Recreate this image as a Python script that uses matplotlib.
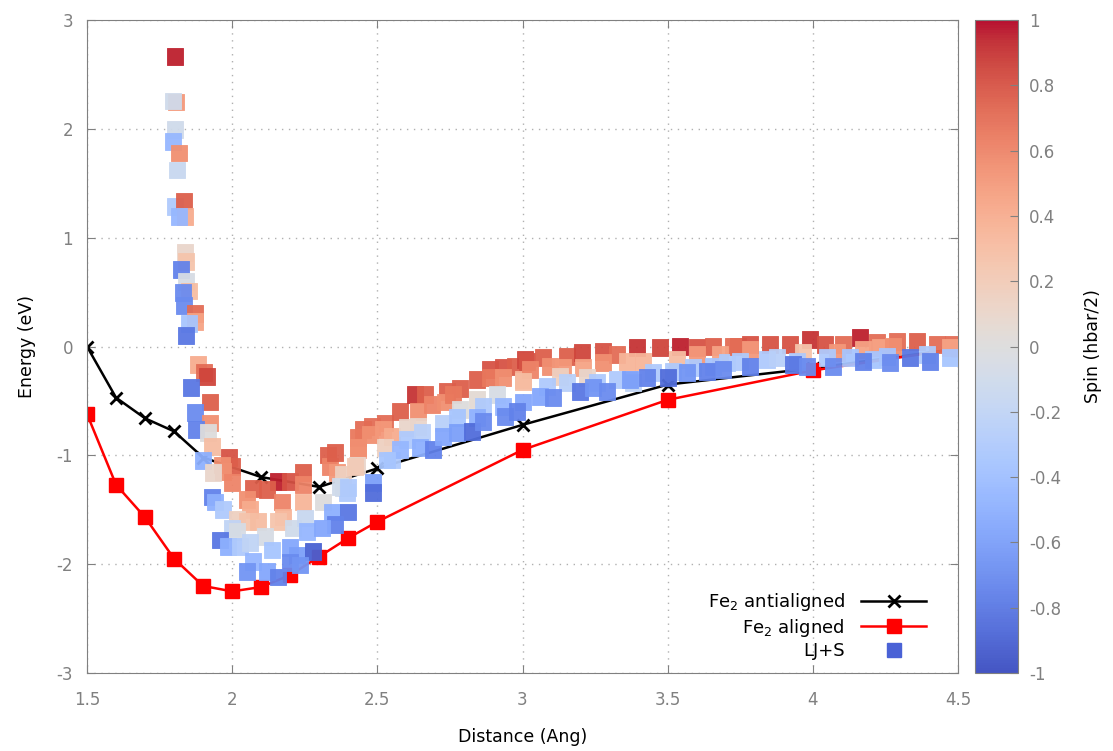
import matplotlib
matplotlib.use("Agg")
import matplotlib.pyplot as plt
import numpy as np
from matplotlib.lines import Line2D

plt.rcParams['font.family'] = ['DejaVu Sans']
plt.rcParams['axes.unicode_minus'] = False

# Fe2 reference curves
anti_x = [1.5, 1.6, 1.7, 1.8, 1.9, 2.1, 2.3, 2.5, 3.0, 3.5, 4.0, 4.5]
anti_y = [0.0, -0.47, -0.66, -0.78, -1.02, -1.20, -1.29, -1.12, -0.72, -0.35, -0.20, -0.02]
align_x = [1.5, 1.6, 1.7, 1.8, 1.9, 2.0, 2.1, 2.2, 2.3, 2.4, 2.5, 3.0, 3.5, 4.0, 4.5]
align_y = [-0.62, -1.27, -1.57, -1.95, -2.20, -2.25, -2.21, -2.10, -1.93, -1.76, -1.61,
           -0.95, -0.49, -0.22, -0.02]

# LJ+S scatter: distance, energy, spin
ljs_x = [1.803, 1.807, 1.796, 1.803, 1.796, 1.817, 1.810, 1.803, 1.834, 1.838, 1.817, 1.838,
         1.841, 1.824, 1.841, 1.851, 1.831, 1.834, 1.872, 1.872, 1.851, 1.841, 1.882, 1.903,
         1.913, 1.858, 1.924, 1.872, 1.924, 1.875, 1.917, 1.931, 1.900, 1.989, 2.000, 1.965,
         1.968, 1.934, 2.000,
         2.072, 2.158, 2.120, 2.199, 2.244, 2.244, 2.330, 2.337, 2.361, 2.434, 2.430, 2.051,
         2.061, 2.172, 2.175, 2.244, 2.313, 2.382, 2.396, 1.931, 1.941, 1.968, 2.017, 2.051,
         2.089, 2.158, 2.000, 2.017, 2.113, 2.210, 2.251, 2.258, 2.344, 2.399, 2.354, 2.310,
         1.958, 1.986, 2.027, 2.061, 2.137, 2.199, 2.223, 2.279, 2.072, 2.051, 2.120, 2.158,
         2.199, 2.234,
         2.354, 2.451, 2.434, 2.482, 2.527, 2.578, 2.630, 2.664, 2.740, 2.785, 2.843, 2.888,
         2.933, 2.974, 3.009, 2.434, 2.475, 2.520, 2.551, 2.640, 2.688, 2.733, 2.761, 2.888,
         2.933, 3.002, 2.382, 2.423, 2.602, 2.640, 2.527, 2.785, 2.843, 2.912, 2.551, 2.602,
         2.654, 2.726, 2.775, 2.864, 2.843, 2.933, 3.002, 2.578, 2.647, 2.692, 2.726, 2.775,
         2.826, 2.864, 2.940, 2.981, 2.485, 2.485, 2.372, 2.399, 2.533,
         3.016, 3.071, 3.153, 3.205, 3.277, 3.326, 3.395, 3.474, 3.543, 3.601, 3.656, 3.725,
         3.026, 3.095, 3.140, 3.209, 3.277, 3.360, 3.415, 3.532, 3.601, 3.681, 3.002, 3.129,
         3.222, 3.085, 3.153, 3.257, 3.326, 3.381, 3.450, 3.519, 3.588, 3.656, 3.705, 3.060,
         3.105, 3.198, 3.243, 3.291, 3.370, 3.429, 3.501, 3.567, 3.636, 3.691,
         3.743, 3.784, 3.853, 3.922, 3.991, 4.042, 4.104, 4.163, 4.221, 4.290, 4.359, 4.428,
         4.483, 3.784, 3.966, 4.083, 4.173, 4.232, 4.276, 4.473, 3.749, 3.842, 3.877, 3.946,
         4.049, 4.128, 4.208, 4.256, 4.394, 4.473, 3.784, 3.932, 3.980, 4.070, 4.173, 4.266,
         4.335, 4.404]
ljs_y = [2.665, 2.243, 2.252, 1.994, 1.884, 1.774, 1.618, 1.287, 1.333, 1.195, 1.195, 0.864,
         0.781, 0.708, 0.597, 0.506, 0.496, 0.377, 0.303, 0.230, 0.211, 0.101, -0.165, -0.239,
         -0.276, -0.377, -0.506, -0.607, -0.699, -0.763, -0.790, -0.919, -1.048, -1.020, -1.103,
         -1.085, -1.149, -1.158, -1.250,
         -1.305, -1.241, -1.314, -1.241, -1.158, -1.268, -0.993, -1.103, -1.158, -0.947, -1.094,
         -1.406, -1.498, -1.425, -1.563, -1.425, -1.425, -1.296, -1.342, -1.379, -1.425, -1.498,
         -1.590, -1.608, -1.608, -1.608, -1.664, -1.700, -1.746, -1.664, -1.572, -1.700, -1.517,
         -1.517, -1.636, -1.664, -1.774, -1.838, -1.838, -1.801, -1.866, -1.847, -1.912, -1.884,
         -1.976, -2.068, -2.068, -2.114, -1.985, -2.004,
         -0.974, -0.763, -0.836, -0.735, -0.699, -0.597, -0.441, -0.441, -0.414, -0.386, -0.303,
         -0.211, -0.193, -0.184, -0.119, -0.928, -0.809, -0.763, -0.827, -0.597, -0.533, -0.506,
         -0.441, -0.285, -0.285, -0.303, -1.176, -1.103, -0.744, -0.735, -0.928, -0.579, -0.487,
         -0.441, -1.039, -0.855, -0.790, -0.699, -0.653, -0.551, -0.653, -0.551, -0.506, -0.947,
         -0.928, -0.947, -0.827, -0.790, -0.781, -0.689, -0.643, -0.597, -1.250, -1.342, -1.287,
         -1.296, -1.039,
         -0.138, -0.101, -0.092, -0.055, -0.046, -0.074, -0.009, -0.009, 0.000, -0.009, 0.000,
         0.000, -0.211, -0.184, -0.193, -0.193, -0.147, -0.138, -0.138, -0.119, -0.074, -0.074,
         -0.322, -0.276, -0.285, -0.368, -0.331, -0.331, -0.303, -0.331, -0.239, -0.230, -0.193,
         -0.184, -0.147, -0.460, -0.469, -0.414, -0.377, -0.414, -0.303, -0.285, -0.285, -0.239,
         -0.230, -0.211,
         0.000, 0.018, 0.018, 0.018, 0.064, 0.018, 0.018, 0.083, 0.037, 0.046, 0.046, 0.018,
         0.018, -0.028, -0.055, -0.055, -0.028, -0.009, 0.000, -0.009, -0.138, -0.119, -0.101,
         -0.138, -0.101, -0.101, -0.119, -0.092, -0.074, -0.101, -0.184, -0.165, -0.184, -0.184,
         -0.138, -0.147, -0.101, -0.138]
ljs_spin = [0.95, 0.5, -0.1, -0.1, -0.45, 0.55, -0.15, -0.3, 0.75, 0.4, -0.45, 0.1,
            0.25, -0.75, -0.05, 0.3, -0.7, -0.7, 0.7, 0.45, -0.35, -0.8, 0.4, 0.7,
            0.85, -0.8, 0.75, -0.7, 0.55, -0.75, 0.0, 0.3, -0.5, 0.8, 0.75, 0.55,
            0.55, 0.1, 0.6,
            0.75, 0.95, 0.75, 0.8, 0.75, 0.6, 0.75, 0.6, 0.5, 0.45, 0.1, 0.55,
            0.4, 0.6, 0.35, 0.35, 0.0, -0.1, -0.3, -0.75, -0.5, -0.3, 0.15, 0.25,
            0.3, 0.25, -0.2, -0.05, -0.05, -0.1, -0.15, -0.45, -0.5, -0.8, -0.75, -0.55,
            -0.8, -0.5, -0.3, -0.2, -0.35, -0.55, -0.6, -0.9, -0.45, -0.65, -0.55, -0.75,
            -0.7, -0.65,
            0.75, 0.7, 0.65, 0.7, 0.7, 0.75, 0.9, 0.75, 0.75, 0.75, 0.75, 0.8,
            0.8, 0.75, 0.85, 0.55, 0.55, 0.5, 0.4, 0.55, 0.6, 0.55, 0.65, 0.65,
            0.55, 0.35, 0.15, 0.2, 0.1, 0.1, 0.15, 0.0, 0.05, -0.05, -0.3, -0.3,
            -0.25, -0.25, -0.35, -0.3, -0.5, -0.45, -0.55, -0.45, -0.5, -0.75, -0.55, -0.6,
            -0.85, -0.7, -0.7, -0.75, -0.6, -0.85, -0.1, -0.3, -0.35,
            0.8, 0.75, 0.75, 0.85, 0.8, 0.7, 0.9, 0.85, 0.95, 0.8, 0.75, 0.7,
            0.6, 0.55, 0.5, 0.45, 0.55, 0.35, 0.35, 0.3, 0.5, 0.45, 0.3, 0.15,
            0.1, -0.3, -0.25, -0.3, -0.3, -0.2, -0.3, -0.3, -0.3, -0.35, -0.3, -0.55,
            -0.7, -0.8, -0.65, -0.7, -0.6, -0.75, -0.85, -0.65, -0.75, -0.7,
            0.7, 0.8, 0.8, 0.8, 0.9, 0.8, 0.7, 0.95, 0.7, 0.7, 0.75, 0.7,
            0.7, 0.5, 0.25, 0.5, 0.45, 0.45, 0.55, 0.45, -0.3, -0.3, -0.25, -0.3,
            -0.3, -0.35, -0.35, -0.35, -0.3, -0.35, -0.75, -0.8, -0.7, -0.7, -0.75, -0.7,
            -0.8, -0.75]

x_ticks = [1.5, 2, 2.5, 3, 3.5, 4, 4.5]
y_ticks = [-3, -2, -1, 0, 1, 2, 3]
cb_ticks = [-1, -0.8, -0.6, -0.4, -0.2, 0, 0.2, 0.4, 0.6, 0.8, 1]

grey = '#808080'
fig = plt.figure(figsize=(11.13, 7.51), dpi=100)
ax = fig.add_axes([87/1113, 78/751, 871/1113, 653/751])
cax = fig.add_axes([975/1113, 78/751, 43/1113, 653/751])

ax.plot(anti_x, anti_y, color='black', lw=1.8, marker='x', ms=9, mew=2, zorder=2,
        label='Fe$_2$ antialigned')
ax.plot(align_x, align_y, color='red', lw=1.8, marker='s', ms=10, zorder=2,
        label='Fe$_2$ aligned')
sc = ax.scatter(ljs_x, ljs_y, c=ljs_spin, cmap='coolwarm', vmin=-1, vmax=1, marker='s',
                s=135, linewidths=0.6, edgecolors='face', alpha=0.95, zorder=3)

ax.set_xlim(1.5, 4.5)
ax.set_ylim(-3, 3)
ax.set_xticks(x_ticks)
ax.set_xticklabels([f'{t:g}' for t in x_ticks])
ax.set_yticks(y_ticks)
ax.set_yticklabels([f'{t:g}' for t in y_ticks])
ax.grid(True, color='#b0b0b0', linestyle=(0, (1, 4)), lw=1)
ax.tick_params(direction='in', top=True, right=True, colors=grey, labelcolor=grey,
               labelsize=12, length=6)
ax.tick_params(axis='x', pad=13)
ax.tick_params(axis='y', pad=10)
for s in ax.spines.values():
    s.set_color(grey)
ax.set_xlabel('Distance (Ang)', fontsize=12.5, labelpad=14)
ax.set_ylabel('Energy (eV)', fontsize=12.5, labelpad=15)

handles = [Line2D([], [], color='black', lw=1.8, marker='x', ms=9, mew=2),
           Line2D([], [], color='red', lw=1.8, marker='s', ms=10),
           Line2D([], [], color='#4a62d6', lw=0, marker='s', ms=10)]
labels = ['Fe$_2$ antialigned', 'Fe$_2$ aligned', 'LJ+S']
ax.legend(handles, labels, loc='lower right', frameon=False, markerfirst=False,
          fontsize=13, handlelength=3.6, handletextpad=0.9, labelspacing=0.2,
          borderaxespad=0.3, bbox_to_anchor=(0.978, 0.0))

cb = fig.colorbar(sc, cax=cax, ticks=cb_ticks)
cb.ax.set_yticklabels([f'{t:g}' for t in cb_ticks])
cb.ax.tick_params(direction='in', colors=grey, labelcolor=grey, labelsize=12, length=6,
                  pad=8)
cb.outline.set_edgecolor(grey)
cb.set_label('Spin (hbar/2)', fontsize=12.5, labelpad=16)

fig.savefig('out.png', dpi=100)
